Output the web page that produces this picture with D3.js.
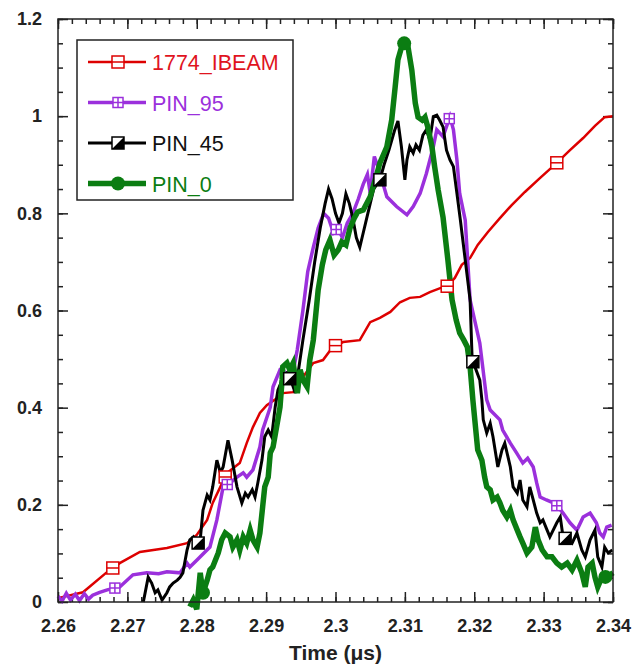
<!DOCTYPE html>
<html>
<head>
<meta charset="utf-8">
<script src="https://cdn.jsdelivr.net/npm/d3@7"></script>
<style>
  body { margin: 0; background: #fff; }
  text { font-family: "Liberation Sans", Arial, sans-serif; }
</style>
</head>
<body>
<div id="chart"></div>
<script>
// ---- data ----
var xTicks = [2.26, 2.27, 2.28, 2.29, 2.3, 2.31, 2.32, 2.33, 2.34];
var yTicks = [0, 0.2, 0.4, 0.6, 0.8, 1, 1.2];
var seriesNames = ["1774_IBEAM", "PIN_95", "PIN_45", "PIN_0"];

var ibeam = [[2.2600,0.008],[2.2636,0.02],[2.2671,0.062],[2.2689,0.08],[2.2718,0.103],[2.2757,0.111],
  [2.2786,0.121],[2.2800,0.138],[2.2815,0.169],[2.2823,0.204],[2.2834,0.237],[2.2844,0.266],[2.2862,0.286],
  [2.2872,0.327],[2.2881,0.360],[2.2891,0.389],[2.2901,0.405],[2.2916,0.420],[2.2924,0.430],[2.2939,0.432],
  [2.2953,0.463],[2.2968,0.492],[2.2982,0.498],[2.2996,0.525],[2.3011,0.535],[2.3035,0.539],[2.3050,0.576],
  [2.3064,0.585],[2.3079,0.597],[2.3093,0.617],[2.3107,0.626],[2.3122,0.628],[2.3136,0.638],[2.3151,0.646],
  [2.3161,0.650],[2.3172,0.667],[2.3182,0.694],[2.3194,0.708],[2.3205,0.735],[2.3220,0.762],[2.3237,0.790],
  [2.3254,0.817],[2.3273,0.844],[2.3295,0.873],[2.3319,0.904],[2.3338,0.930],[2.3357,0.955],[2.3374,0.980],
  [2.3388,0.998],[2.3400,1.0]];
var ibeamMarks = [2.2679, 2.2841, 2.3000, 2.3161, 2.3319];

var pin95 = [[2.2600,0.012],[2.2606,0.002],[2.2612,0.018],[2.2618,0.004],[2.2625,0.016],[2.2631,0.003],
  [2.2638,0.017],[2.2644,0.006],[2.2650,0.014],[2.2660,0.02],[2.2671,0.025],[2.2689,0.031],[2.2708,0.056],
  [2.2728,0.060],[2.2745,0.058],[2.2757,0.062],[2.2776,0.060],[2.2786,0.080],[2.2790,0.072],[2.2800,0.086],
  [2.2819,0.113],[2.2829,0.169],[2.2838,0.237],[2.2848,0.245],[2.2858,0.257],[2.2867,0.266],[2.2872,0.257],
  [2.2881,0.272],[2.2891,0.319],[2.2895,0.354],[2.2906,0.401],[2.2910,0.443],[2.2920,0.478],[2.2930,0.471],
  [2.2937,0.46],[2.2945,0.52],[2.2953,0.60],[2.2960,0.68],[2.2968,0.73],[2.2975,0.77],[2.2983,0.80],
  [2.2990,0.79],[2.2997,0.76],[2.3003,0.77],[2.3010,0.75],[2.3017,0.78],[2.3025,0.80],[2.3033,0.83],
  [2.3040,0.86],[2.3046,0.88],[2.3050,0.842],[2.3056,0.917],[2.3064,0.883],[2.3074,0.834],[2.3088,0.814],
  [2.3103,0.797],[2.3112,0.814],[2.3122,0.841],[2.3131,0.882],[2.3141,0.937],[2.3146,0.972],[2.3155,0.958],
  [2.3165,0.999],[2.3170,0.972],[2.3175,0.910],[2.3179,0.841],[2.3187,0.786],[2.3194,0.622],[2.3208,0.533],
  [2.3218,0.416],[2.3223,0.395],[2.3237,0.375],[2.3241,0.354],[2.3252,0.327],[2.3261,0.307],[2.3270,0.286],
  [2.3277,0.296],[2.3285,0.278],[2.3290,0.245],[2.3295,0.216],[2.3304,0.210],[2.3314,0.204],[2.3321,0.196],
  [2.3328,0.183],[2.3338,0.163],[2.3348,0.148],[2.3357,0.175],[2.3367,0.183],[2.3376,0.163],[2.3381,0.142],
  [2.3386,0.134],[2.3391,0.154],[2.3398,0.158]];
var pin95Marks = [2.2682, 2.2844, 2.3001, 2.3164, 2.3319];

var pin45 = [[2.2723,0],[2.2730,0.051],[2.2735,0.039],[2.2740,0.019],[2.2744,0.025],[2.2750,0.004],
  [2.2757,0.019],[2.2761,0.031],[2.2766,0.039],[2.2772,0.045],[2.2776,0.051],[2.2780,0.060],[2.2786,0.107],
  [2.2790,0.128],[2.2795,0.134],[2.2800,0.117],[2.2805,0.128],[2.2809,0.189],[2.2815,0.220],[2.2819,0.210],
  [2.2823,0.237],[2.2829,0.292],[2.2834,0.266],[2.2838,0.278],[2.2845,0.333],[2.2851,0.292],[2.2858,0.237],
  [2.2865,0.204],[2.2870,0.224],[2.2874,0.216],[2.2880,0.231],[2.2884,0.216],[2.2888,0.245],[2.2894,0.292],
  [2.2898,0.340],[2.2903,0.354],[2.2908,0.340],[2.2913,0.401],[2.2917,0.436],[2.2923,0.457],[2.2930,0.471],
  [2.2937,0.451],[2.2942,0.430],[2.2946,0.471],[2.2953,0.539],[2.2962,0.62],[2.2970,0.70],[2.2978,0.77],
  [2.2985,0.82],[2.2990,0.85],[2.2995,0.83],[2.3000,0.80],[2.3005,0.78],[2.3010,0.80],[2.3015,0.84],
  [2.3020,0.82],[2.3025,0.79],[2.3030,0.75],[2.3035,0.73],[2.3040,0.76],[2.3045,0.79],[2.3050,0.82],
  [2.3055,0.85],[2.3064,0.869],[2.3070,0.90],[2.3077,0.93],[2.3085,0.97],[2.3090,0.99],[2.3095,0.937],
  [2.3100,0.869],[2.3103,0.910],[2.3107,0.937],[2.3112,0.924],[2.3116,0.941],[2.3121,0.930],[2.3126,0.961],
  [2.3131,0.972],[2.3136,0.951],[2.3141,0.999],[2.3146,1.002],[2.3150,0.992],[2.3155,0.978],[2.3160,0.930],
  [2.3165,0.910],[2.3170,0.896],[2.3175,0.841],[2.3180,0.786],[2.3194,0.622],[2.3197,0.498],[2.3201,0.484],
  [2.3208,0.457],[2.3211,0.416],[2.3213,0.375],[2.3218,0.348],[2.3223,0.368],[2.3227,0.340],[2.3234,0.278],
  [2.3240,0.313],[2.3244,0.327],[2.3252,0.278],[2.3256,0.237],[2.3262,0.224],[2.3266,0.251],[2.3270,0.210],
  [2.3276,0.196],[2.3280,0.237],[2.3285,0.210],[2.3290,0.183],[2.3295,0.163],[2.3299,0.169],[2.3305,0.148],
  [2.3309,0.134],[2.3319,0.163],[2.3324,0.175],[2.3328,0.134],[2.3334,0.128],[2.3341,0.121],[2.3348,0.142],
  [2.3355,0.107],[2.3360,0.093],[2.3367,0.128],[2.3374,0.148],[2.3378,0.093],[2.3384,0.072],[2.3388,0.113],
  [2.3393,0.101],[2.3399,0.107]];
var pin45Marks = [2.2802, 2.2934, 2.3064, 2.3198, 2.3331];

var pin0 = [[2.2790,-0.01],[2.2795,0.004],[2.2800,-0.015],[2.2805,0.060],[2.2809,0.019],[2.2815,0.045],
  [2.2819,0.066],[2.2823,0.072],[2.2831,0.101],[2.2836,0.128],[2.2841,0.142],[2.2848,0.134],[2.2852,0.113],
  [2.2858,0.128],[2.2862,0.107],[2.2867,0.134],[2.2872,0.121],[2.2877,0.148],[2.2881,0.128],[2.2887,0.113],
  [2.2891,0.142],[2.2895,0.196],[2.2898,0.237],[2.2903,0.257],[2.2906,0.307],[2.2910,0.319],[2.2916,0.368],
  [2.2920,0.401],[2.2923,0.457],[2.2924,0.484],[2.2930,0.492],[2.2934,0.478],[2.2939,0.492],[2.2942,0.463],
  [2.2945,0.430],[2.2949,0.478],[2.2953,0.457],[2.2959,0.443],[2.2963,0.498],[2.2968,0.539],[2.2975,0.642],
  [2.2981,0.694],[2.2986,0.725],[2.2992,0.745],[2.2998,0.714],[2.3004,0.725],[2.3009,0.741],[2.3015,0.735],
  [2.3021,0.770],[2.3027,0.790],[2.3032,0.803],[2.3040,0.807],[2.3050,0.834],[2.3060,0.883],[2.3064,0.904],
  [2.3074,0.937],[2.3081,0.992],[2.3086,1.060],[2.3090,1.116],[2.3097,1.151],[2.3104,1.147],[2.3110,1.095],
  [2.3115,1.027],[2.3119,0.998],[2.3125,0.992],[2.3129,0.998],[2.3133,0.978],[2.3139,0.937],[2.3143,0.895],
  [2.3148,0.848],[2.3155,0.792],[2.3162,0.704],[2.3168,0.622],[2.3174,0.580],[2.3179,0.554],[2.3185,0.539],
  [2.3190,0.525],[2.3194,0.484],[2.3198,0.416],[2.3205,0.313],[2.3211,0.292],[2.3215,0.257],[2.3218,0.237],
  [2.3223,0.231],[2.3227,0.210],[2.3233,0.216],[2.3237,0.204],[2.3241,0.189],[2.3247,0.175],[2.3252,0.189],
  [2.3256,0.169],[2.3262,0.148],[2.3266,0.134],[2.3270,0.121],[2.3276,0.101],[2.3283,0.113],[2.3288,0.154],
  [2.3292,0.128],[2.3298,0.107],[2.3305,0.093],[2.3312,0.093],[2.3319,0.080],[2.3326,0.072],[2.3334,0.080],
  [2.3341,0.066],[2.3348,0.086],[2.3355,0.060],[2.3360,0.031],[2.3364,0.072],[2.3370,0.080],[2.3374,0.051],
  [2.3378,0.031],[2.3384,0.051],[2.3388,0.051],[2.3396,0.056],[2.3400,0.060]];
var pin0Marks = [2.2809, 2.3099, 2.3389];

// ---- layout ----
var W = 634, H = 671;
var margin = {top: 19, right: 21, bottom: 69, left: 58};
var width = W - margin.left - margin.right,
    height = H - margin.top - margin.bottom;

var svg = d3.select("#chart").append("svg")
  .attr("width", W).attr("height", H);
var g = svg.append("g")
  .attr("transform", "translate(" + margin.left + "," + margin.top + ")");

var x = d3.scaleLinear().domain([2.26, 2.34]).range([0, width]);
var y = d3.scaleLinear().domain([0, 1.2]).range([height, 0]);

// minor ticks
var xMinor = d3.range(0, 41).map(function(i){ return 2.26 + i * 0.002; });
var yMinor = d3.range(0, 25).map(function(i){ return i * 0.05; });

function tickAxis(axisFn, scale, values, size) {
  return axisFn(scale).tickValues(values).tickSize(size).tickFormat("");
}

// inward ticks on all four sides
g.append("g").attr("transform", "translate(0," + height + ")")
  .call(tickAxis(d3.axisTop, x, xMinor, 5));
g.append("g").attr("transform", "translate(0," + height + ")")
  .call(tickAxis(d3.axisTop, x, xTicks, 10));
g.append("g").call(tickAxis(d3.axisBottom, x, xMinor, 5));
g.append("g").call(tickAxis(d3.axisBottom, x, xTicks, 10));
g.append("g").call(tickAxis(d3.axisRight, y, yMinor, 5));
g.append("g").call(tickAxis(d3.axisRight, y, yTicks, 10));
g.append("g").attr("transform", "translate(" + width + ",0)")
  .call(tickAxis(d3.axisLeft, y, yMinor, 5));
g.append("g").attr("transform", "translate(" + width + ",0)")
  .call(tickAxis(d3.axisLeft, y, yTicks, 10));
g.selectAll(".domain").remove();
g.selectAll(".tick line").attr("stroke", "#222").attr("stroke-width", 1.5);

// tick labels
var xLab = g.append("g").attr("transform", "translate(0," + height + ")")
  .call(d3.axisBottom(x).tickValues(xTicks).tickSize(0).tickPadding(17)
        .tickFormat(function(d){ return d3.format("")(+d.toFixed(2)); }));
var yLab = g.append("g")
  .call(d3.axisLeft(y).tickValues(yTicks).tickSize(0).tickPadding(16)
        .tickFormat(function(d){ return d3.format("")(+d.toFixed(1)); }));
[xLab, yLab].forEach(function(a){
  a.select(".domain").remove();
  a.selectAll("text").attr("font-size", 18).attr("font-weight", "bold")
    .attr("fill", "#222").style("font-family", "Liberation Sans, Arial, sans-serif");
});

g.append("text")
  .attr("x", width / 2).attr("y", height + 58)
  .attr("text-anchor", "middle").attr("font-size", 21).attr("font-weight", "bold")
  .attr("fill", "#222").text("Time (\u03bcs)");

// ---- series ----
var line = d3.line().x(function(d){ return x(d[0]); }).y(function(d){ return y(d[1]); });

function valueAt(data, t) {
  var i = d3.bisector(function(d){ return d[0]; }).left(data, t);
  if (i <= 0) return data[0][1];
  if (i >= data.length) return data[data.length - 1][1];
  var a = data[i - 1], b = data[i];
  return a[1] + (b[1] - a[1]) * (t - a[0]) / (b[0] - a[0]);
}

var series = [
  {name: seriesNames[0], data: ibeam, marks: ibeamMarks, color: "#dd0000", text: "#e0141e", width: 2.5, marker: "square"},
  {name: seriesNames[1], data: pin95, marks: pin95Marks, color: "#9b30dc", text: "#9b30dc", width: 3.5, marker: "cross"},
  {name: seriesNames[2], data: pin45, marks: pin45Marks, color: "#000000", text: "#111", width: 3, marker: "half"},
  {name: seriesNames[3], data: pin0, marks: pin0Marks, color: "#0b7d12", text: "#0b7d12", width: 5.5, marker: "circle"}
];

function drawMarker(sel, s, cx, cy) {
  if (s.marker == "square") {
    sel.append("rect").attr("x", cx - 6).attr("y", cy - 6).attr("width", 12).attr("height", 12)
      .attr("fill", "#fff").attr("stroke", s.color).attr("stroke-width", 1.5);
    sel.append("line").attr("x1", cx - 6).attr("x2", cx + 6).attr("y1", cy).attr("y2", cy)
      .attr("stroke", s.color).attr("stroke-width", 1.5);
  } else if (s.marker == "cross") {
    sel.append("rect").attr("x", cx - 5).attr("y", cy - 5).attr("width", 10).attr("height", 10)
      .attr("fill", "#fff").attr("stroke", s.color).attr("stroke-width", 1.5);
    sel.append("path").attr("d", "M" + (cx - 5) + "," + cy + "H" + (cx + 5) + "M" + cx + "," + (cy - 5) + "V" + (cy + 5))
      .attr("stroke", s.color).attr("stroke-width", 1.5);
  } else if (s.marker == "half") {
    sel.append("rect").attr("x", cx - 6).attr("y", cy - 6).attr("width", 12).attr("height", 12)
      .attr("fill", "#fff").attr("stroke", s.color).attr("stroke-width", 1.5);
    sel.append("path").attr("d", "M" + (cx - 6) + "," + (cy + 6) + "L" + (cx + 6) + "," + (cy - 6) + "L" + (cx + 6) + "," + (cy + 6) + "Z")
      .attr("fill", s.color);
  } else {
    sel.append("circle").attr("cx", cx).attr("cy", cy).attr("r", 7).attr("fill", s.color);
  }
}

series.forEach(function(s){
  g.append("path").datum(s.data)
    .attr("fill", "none").attr("stroke", s.color).attr("stroke-width", s.width)
    .attr("stroke-linejoin", "miter").attr("d", line);
});
series.forEach(function(s){
  var mg = g.append("g");
  s.marks.forEach(function(t){
    drawMarker(mg, s, x(t), y(valueAt(s.data, t)));
  });
});

// frame
g.append("rect").attr("width", width).attr("height", height)
  .attr("fill", "none").attr("stroke", "#222").attr("stroke-width", 1.5);

// ---- legend ----
var leg = svg.append("g").attr("transform", "translate(77,40)");
leg.append("rect").attr("width", 216).attr("height", 160)
  .attr("fill", "#fff").attr("stroke", "#222").attr("stroke-width", 1.5);
series.forEach(function(s, i){
  var ly = 22 + i * 40.5;
  leg.append("line").attr("x1", 11).attr("x2", 69).attr("y1", ly).attr("y2", ly)
    .attr("stroke", s.color).attr("stroke-width", s.width);
  drawMarker(leg.append("g"), s, 41, ly);
  leg.append("text").attr("x", 75).attr("y", ly + 8)
    .attr("font-size", 21.5).attr("fill", s.text)
    .text(s.name);
});
</script>
</body>
</html>
